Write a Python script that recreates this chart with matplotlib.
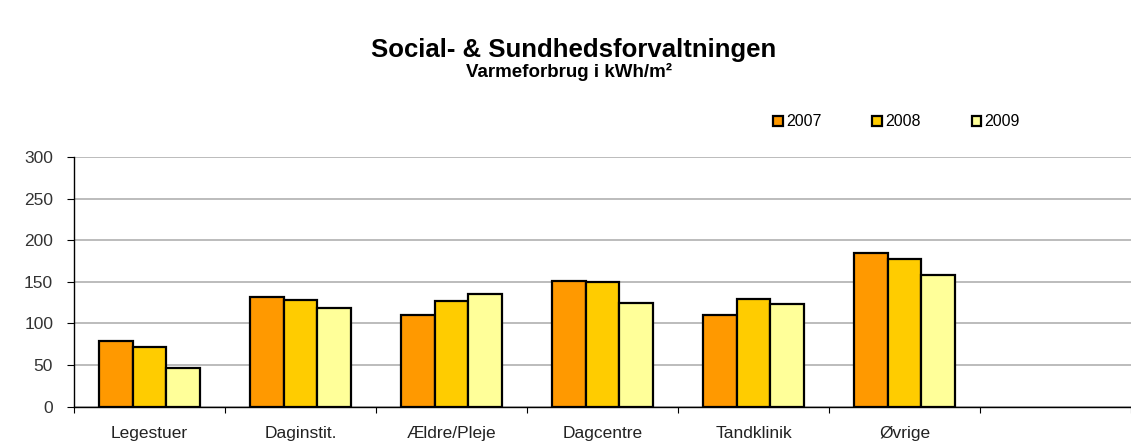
import numpy as np
import matplotlib.pyplot as plt

plt.rcParams['font.family'] = ['Liberation Sans', 'DejaVu Sans']

# data
kategorier = ['Legestuer', 'Daginstit.', 'Ældre/Pleje', 'Dagcentre', 'Tandklinik', 'Øvrige']
aar = ['2007', '2008', '2009']
v2007 = [79, 132, 110, 151, 110, 185]
v2008 = [72, 128, 127, 150, 129, 178]
v2009 = [47, 119, 136, 124, 123, 158]

farver = ['#FF9900', '#FFCC00', '#FFFF99']

fig = plt.figure(figsize=(11.31, 4.45), dpi=100)
ax = fig.add_axes([74 / 1131, (445 - 406.7) / 445, (1131 - 74) / 1131, 249.7 / 445])

x = np.arange(len(kategorier))
b = 0.223
for i, (vals, navn) in enumerate(zip([v2007, v2008, v2009], aar)):
    ax.bar(x + (i - 1) * b, vals, width=b, color=farver[i], edgecolor='black',
           linewidth=1.6, label=navn, zorder=3)

ax.set_ylim(0, 300)
ax.set_yticks(range(0, 301, 50))
ax.set_xlim(-0.5, -0.5 + 1057 / 152.4)
ax.set_xticks(np.arange(-0.5, 6.6, 1.0))
ax.set_xticklabels([])
ax.set_xticks(x, minor=True)
ax.set_xticklabels(kategorier, minor=True, fontsize=12.5, color='#222222')
ax.tick_params(axis='x', which='minor', length=0, pad=14)
ax.tick_params(axis='x', which='major', length=4, direction='out', width=0.8)
ax.tick_params(axis='y', length=5, direction='out', labelsize=12.5,
               labelcolor='#333333', pad=10)

ax.grid(axis='y', color='#b0b0b0', linewidth=1.2, zorder=0)
for s in ['top', 'right']:
    ax.spines[s].set_visible(False)
ax.spines['left'].set_linewidth(1.0)
ax.spines['bottom'].set_linewidth(1.0)

fig.text(0.5075, 0.888, 'Social- & Sundhedsforvaltningen', ha='center', va='center',
         fontsize=18.5, fontweight='bold')
fig.text(0.503, 0.839, 'Varmeforbrug i kWh/m²', ha='center', va='center',
         fontsize=13.5, fontweight='bold')

fig.legend(loc='center left', bbox_to_anchor=(773 / 1131, 1 - 122 / 445), ncol=3,
           frameon=False, fontsize=11.5, handlelength=0.6, handleheight=0.6,
           columnspacing=3.2, handletextpad=0.2, borderpad=0, borderaxespad=0)

fig.savefig('out.png', dpi=100)
